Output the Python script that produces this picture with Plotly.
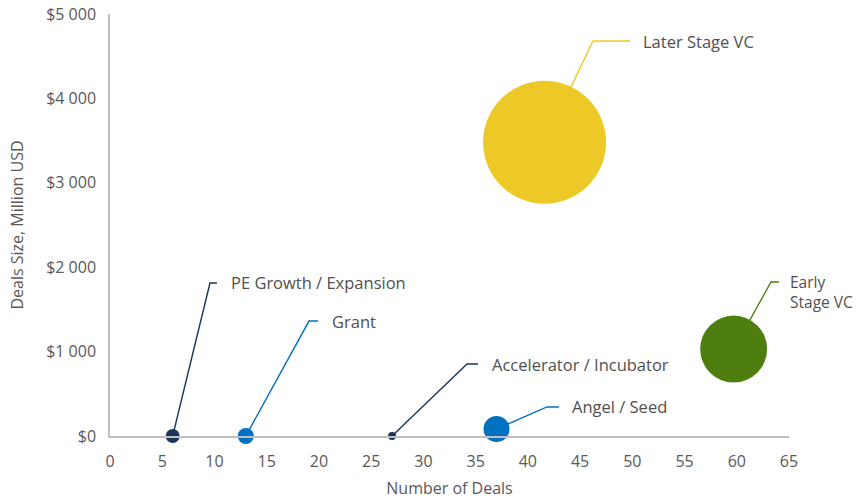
import plotly.graph_objects as go

# ---- data ----
categories = ["PE Growth / Expansion", "Grant", "Accelerator / Incubator",
              "Angel / Seed", "Later Stage VC", "Early Stage VC"]
num_deals = [6, 13, 27, 37, 41.6, 59.7]
deal_size = [0, 0, 0, 83, 3480, 1030]
bubble_value = [45, 59, 4, 155, 3480, 1030]
colors = ["#1B365D", "#0070C0", "#1B365D", "#0070C0", "#EDC928", "#4E7F0E"]

x_ticks = list(range(0, 70, 5))
y_ticks = [0, 1000, 2000, 3000, 4000, 5000]
y_tick_text = ["$0", "$1 000", "$2 000", "$3 000", "$4 000", "$5 000"]

# label layout (elbow point, stub end, label start) in data units
elbow_x = [9.57, 19.05, 34.18, 41.83, 46.24, 63.28]
elbow_y = [1813, 1362, 853, 344, 4680, 1825]
stub_x = [10.24, 19.91, 35.23, 42.98, 49.78, 64.04]
label_x = [11.39, 21.06, 36.38, 44.04, 50.83, 64.9]
label_text = ["PE Growth / Expansion", "Grant", "Accelerator / Incubator",
              "Angel / Seed", "Later Stage VC", "Early<br>Stage VC"]

fig = go.Figure()

# leader lines (drawn first, bubbles cover their start)
for i in range(len(categories)):
    fig.add_trace(go.Scatter(
        x=[num_deals[i], elbow_x[i], stub_x[i]],
        y=[deal_size[i], elbow_y[i], elbow_y[i]],
        mode="lines", line=dict(color=colors[i], width=1.4),
        hoverinfo="skip", showlegend=False, cliponaxis=False))

max_px = 123
fig.add_trace(go.Scatter(
    x=num_deals, y=deal_size, mode="markers", text=categories,
    marker=dict(size=bubble_value, sizemode="area",
                sizeref=2.0 * max(bubble_value) / max_px ** 2, sizemin=4,
                color=colors, opacity=1, line=dict(width=0)),
    showlegend=False, cliponaxis=False))

for i in range(len(categories)):
    is_two_line = "<br>" in label_text[i]
    fig.add_annotation(x=label_x[i], y=elbow_y[i], text=label_text[i],
                       showarrow=False, xanchor="left", yanchor="middle",
                       align="left",
                       yshift=-10 if is_two_line else 0,
                       font=dict(size=15.5 if is_two_line else 16.5,
                                 color="#505050"))

font_family = "Open Sans, Noto Sans, sans-serif"
fig.update_layout(
    width=862, height=500,
    margin=dict(l=110, r=73, t=14, b=64, autoexpand=False),
    paper_bgcolor="white", plot_bgcolor="white",
    font=dict(family=font_family, color="#595959", size=16),
    xaxis=dict(range=[0, 65], tickvals=x_ticks, showgrid=False, zeroline=False,
               showline=True, linecolor="#BFBFBF", linewidth=1.5,
               ticks="", ticklabelstandoff=10, automargin=False,
               ticklabeloverflow="allow",
               tickfont=dict(size=16, color="#595959"),
               title=dict(text="Number of Deals", standoff=12,
                          font=dict(size=16, color="#595959"))),
    yaxis=dict(range=[0, 5000], tickvals=y_ticks, ticktext=y_tick_text,
               showgrid=False, zeroline=False,
               showline=True, linecolor="#BFBFBF", linewidth=1.5,
               ticks="", ticklabelstandoff=9, automargin=False,
               ticklabeloverflow="allow",
               tickfont=dict(size=16, color="#595959"),
               title=dict(text="Deals Size, Million USD", standoff=19,
                          font=dict(size=16, color="#595959"))),
)

fig.write_html("out.html",
               config={"displayModeBar": False},
               post_script="document.body.style.margin='0px';")
